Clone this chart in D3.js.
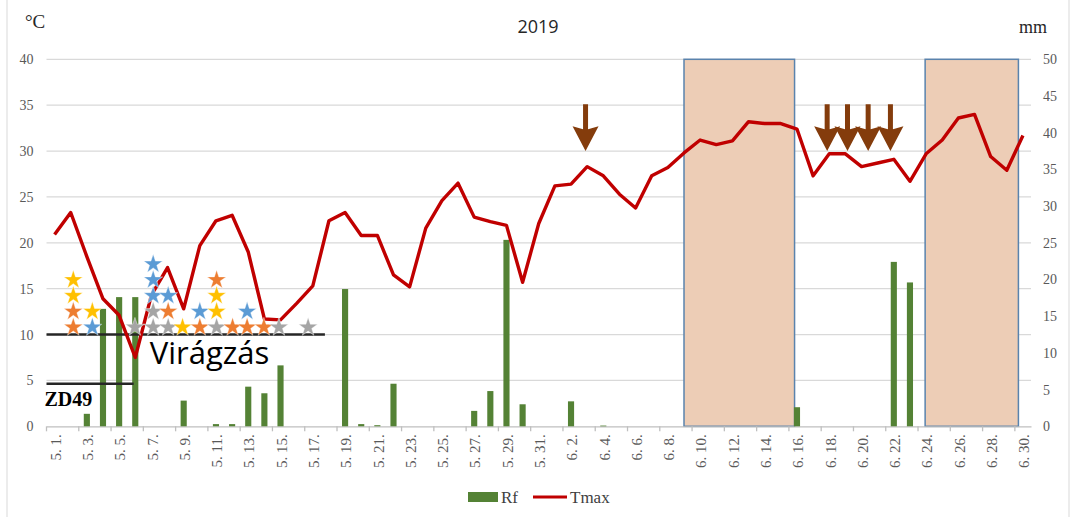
<!DOCTYPE html>
<html>
<head>
<meta charset="utf-8">
<script src="https://cdn.jsdelivr.net/npm/d3@7"></script>
<style>
  body { margin: 0; background: #fff; }
  svg { display: block; }
</style>
</head>
<body>
<div id="chart"></div>
<script>
// days 5.1. .. 6.30.
var days = [];
for (var d = 1; d <= 31; d++) days.push("5. " + d + ".");
for (var d = 1; d <= 30; d++) days.push("6. " + d + ".");

// daily max temperature, °C
var tmax = [20.9, 23.3, 18.5, 13.9, 12.1, 7.5, 14.3, 17.3, 12.8, 19.7,
            22.4, 23.0, 19.0, 11.7, 11.6, 13.4, 15.3, 22.4, 23.3, 20.8,
            20.8, 16.5, 15.2, 21.6, 24.6, 26.5, 22.8, 22.3, 21.9, 15.7,
            22.1, 26.2, 26.4, 28.3, 27.3, 25.3, 23.8, 27.3, 28.2, 29.8,
            31.2, 30.7, 31.1, 33.2, 33.0, 33.0, 32.4, 27.3, 29.7, 29.7,
            28.3, 28.7, 29.1, 26.7, 29.7, 31.2, 33.6, 34.0, 29.4, 27.9,
            31.7];

// daily rainfall, mm
var rf = [0, 0, 1.7, 16.0, 17.6, 17.6, 0, 0, 3.5, 0,
          0.3, 0.3, 5.4, 4.5, 8.3, 0, 0, 0, 18.7, 0.3,
          0.15, 5.8, 0, 0, 0, 0, 2.1, 4.8, 25.4, 3.0,
          0, 0, 3.4, 0, 0.1, 0, 0, 0, 0, 0,
          0, 0, 0, 0, 0, 0, 2.6, 0, 0, 0,
          0, 0, 22.4, 19.6, 0, 0, 0, 0, 0, 0,
          0];

var tempTicks = [0, 5, 10, 15, 20, 25, 30, 35, 40];
var rainTicks = [0, 5, 10, 15, 20, 25, 30, 35, 40, 45, 50];

// annotation positions in day-index units
var shadedPeriods = [[39, 45.85], [53.94, 59.72]];
var arrowDays = [32.9, 47.87, 49.13, 50.41, 51.79];
var stars = [
  {day: 1.16, colors: ["#ed7d31", "#ed7d31", "#ffc000", "#ffc000"]},
  {day: 2.34, colors: ["#5b9bd5", "#ffc000"]},
  {day: 4.98, colors: ["#a5a5a5"]},
  {day: 6.11, colors: ["#a5a5a5", "#a5a5a5", "#5b9bd5", "#5b9bd5", "#5b9bd5"]},
  {day: 7.04, colors: ["#a5a5a5", "#ed7d31", "#5b9bd5"]},
  {day: 7.93, colors: ["#ffc000"]},
  {day: 9.0, colors: ["#ed7d31", "#5b9bd5"]},
  {day: 10.04, colors: ["#a5a5a5", "#ffc000", "#ffc000", "#ed7d31"]},
  {day: 11.03, colors: ["#ed7d31"]},
  {day: 11.93, colors: ["#ed7d31", "#5b9bd5"]},
  {day: 12.97, colors: ["#ed7d31"]},
  {day: 13.9, colors: ["#a5a5a5"]},
  {day: 15.71, colors: ["#a5a5a5"]}
];
var stages = [
  {name: "Virágzás", from: 0, to: 17.25, t: 10},
  {name: "ZD49", from: 0, to: 5.4, t: 4.65}
];

var W = 1071, H = 517;
var pLeft = 46.5, pRight = 1031, pTop = 59.3, pBottom = 426.3;

var svg = d3.select("#chart").append("svg")
    .attr("width", W).attr("height", H);

// outer chart border
svg.append("rect")
    .attr("x", 7).attr("y", -2).attr("width", 1062).attr("height", H + 4)
    .attr("fill", "none").attr("stroke", "#d9d9d9").attr("stroke-width", 1);

var x = d3.scaleBand().domain(days).range([pLeft, pRight]).paddingInner(0.62).paddingOuter(0.31);
var xi = d3.scaleLinear().domain([0, days.length]).range([pLeft, pRight]); // edges
var xc = function(i) { return xi(i + 0.5); }; // centers

var yT = d3.scaleLinear().domain([0, 40]).range([pBottom, pTop]);
var yR = d3.scaleLinear().domain([0, 50]).range([pBottom, pTop]);

// gridlines
svg.append("g").selectAll("line")
    .data(tempTicks.slice(1))
    .enter().append("line")
    .attr("x1", pLeft).attr("x2", pRight)
    .attr("y1", function(d) { return yT(d); })
    .attr("y2", function(d) { return yT(d); })
    .attr("stroke", "#d9d9d9").attr("stroke-width", 1.3);

// shaded periods
svg.append("g").selectAll("rect")
    .data(shadedPeriods)
    .enter().append("rect")
    .attr("x", function(d) { return xc(d[0]); })
    .attr("width", function(d) { return xc(d[1]) - xc(d[0]); })
    .attr("y", yT(40))
    .attr("height", yT(0) - yT(40))
    .attr("fill", "#edcdb6")
    .attr("stroke", "#5a83ad").attr("stroke-width", 1.5);

// x axis
var xAxis = d3.axisBottom(x)
    .tickValues(days.filter(function(d, i) { return i % 2 == 0; }))
    .tickSize(0);
var gx = svg.append("g").attr("transform", "translate(0," + pBottom + ")").call(xAxis);
gx.select(".domain").attr("stroke", "#bfbfbf").attr("stroke-width", 1.3);
gx.selectAll("text")
    .attr("transform", "rotate(-90)")
    .attr("x", -8).attr("y", 1).attr("dy", "0.35em")
    .style("text-anchor", "end")
    .attr("fill", "#595959")
    .style("font-family", "Liberation Serif")
    .style("font-size", "15px");
// tick marks every 2 days
svg.append("g").selectAll("line")
    .data(d3.range(0, days.length + 1, 2))
    .enter().append("line")
    .attr("x1", function(d) { return xi(d); })
    .attr("x2", function(d) { return xi(d); })
    .attr("y1", pBottom).attr("y2", pBottom + 5)
    .attr("stroke", "#bfbfbf").attr("stroke-width", 1.3);

// y axes
var gl = svg.append("g").attr("transform", "translate(" + pLeft + ",0)")
    .call(d3.axisLeft(yT).tickValues(tempTicks).tickSize(0).tickPadding(13));
gl.select(".domain").remove();
gl.selectAll("text").attr("fill", "#595959")
    .style("font-family", "Liberation Serif").style("font-size", "14px");

var gr = svg.append("g").attr("transform", "translate(" + pRight + ",0)")
    .call(d3.axisRight(yR).tickValues(rainTicks).tickSize(0).tickPadding(12));
gr.select(".domain").remove();
gr.selectAll("text").attr("fill", "#595959")
    .style("font-family", "Liberation Serif").style("font-size", "14px");

// rainfall bars
svg.append("g").selectAll("rect")
    .data(rf)
    .enter().append("rect")
    .attr("x", function(d, i) { return x(days[i]); })
    .attr("width", x.bandwidth())
    .attr("y", function(d) { return yR(d); })
    .attr("height", function(d) { return yR(0) - yR(d); })
    .attr("fill", "#548235");

// stage lines and labels
svg.append("g").selectAll("line")
    .data(stages)
    .enter().append("line")
    .attr("x1", function(d) { return xi(d.from); })
    .attr("x2", function(d) { return xi(d.to); })
    .attr("y1", function(d) { return yT(d.t); })
    .attr("y2", function(d) { return yT(d.t); })
    .attr("stroke", "#262626").attr("stroke-width", 2.5);

svg.append("text")
    .attr("x", xi(6.4)).attr("y", yT(10) + 29)
    .style("font-family", "Open Sans").style("font-size", "31px")
    .attr("fill", "#000")
    .text(stages[0].name);
svg.append("text")
    .attr("x", xi(0) - 2).attr("y", yT(4.65) + 22)
    .style("font-family", "Liberation Serif").style("font-size", "20px")
    .style("font-weight", "bold")
    .attr("fill", "#000")
    .text(stages[1].name);

// Tmax line
var line = d3.line()
    .x(function(d, i) { return xc(i); })
    .y(function(d) { return yT(d); });
svg.append("path")
    .datum(tmax)
    .attr("d", line)
    .attr("fill", "none")
    .attr("stroke", "#c00000")
    .attr("stroke-width", 3.4)
    .attr("stroke-linejoin", "round");

// stars
var star = d3.symbol().type(d3.symbolStar).size(110);
stars.forEach(function(s) {
    svg.append("g").selectAll("path")
        .data(s.colors)
        .enter().append("path")
        .attr("d", star)
        .attr("transform", function(c, k) {
            return "translate(" + xc(s.day) + "," + (yT(10.9 + k * 1.72) + 1) + ")";
        })
        .attr("fill", function(c) { return c; })
        .attr("stroke", "#fff").attr("stroke-width", 0.4);
});

// arrows
svg.append("g").selectAll("path")
    .data(arrowDays)
    .enter().append("path")
    .attr("d", function(d) {
        var cx = xc(d), y0 = yT(35.1), y1 = yT(32.7), y2 = yT(30);
        return "M" + (cx - 2.5) + "," + y0 + "L" + (cx + 2.5) + "," + y0 +
               "L" + (cx + 2.5) + "," + (y1 + 3) + "L" + (cx + 13) + "," + y1 +
               "L" + cx + "," + y2 + "L" + (cx - 13) + "," + y1 +
               "L" + (cx - 2.5) + "," + (y1 + 3) + "Z";
    })
    .attr("fill", "#843c0c");

// titles
svg.append("text")
    .attr("x", 538).attr("y", 33)
    .attr("text-anchor", "middle")
    .style("font-family", "Open Sans").style("font-size", "18px")
    .attr("fill", "#262626")
    .text("2019");
svg.append("text")
    .attr("x", 25).attr("y", 28)
    .style("font-family", "Liberation Serif").style("font-size", "19px")
    .attr("fill", "#262626")
    .text("°C");
svg.append("text")
    .attr("x", 1019).attr("y", 33)
    .style("font-family", "Liberation Serif").style("font-size", "18px")
    .attr("fill", "#262626")
    .text("mm");

// legend
var lg = svg.append("g").attr("transform", "translate(468,497)");
lg.append("rect").attr("x", 0).attr("y", -5).attr("width", 30).attr("height", 10)
    .attr("fill", "#548235");
lg.append("text").attr("x", 33).attr("y", 6)
    .style("font-family", "Liberation Serif").style("font-size", "17px")
    .attr("fill", "#404040").text("Rf");
lg.append("line").attr("x1", 65).attr("x2", 99).attr("y1", 0).attr("y2", 0)
    .attr("stroke", "#c00000").attr("stroke-width", 3);
lg.append("text").attr("x", 102).attr("y", 6)
    .style("font-family", "Liberation Serif").style("font-size", "17px")
    .attr("fill", "#404040").text("Tmax");
</script>
</body>
</html>
